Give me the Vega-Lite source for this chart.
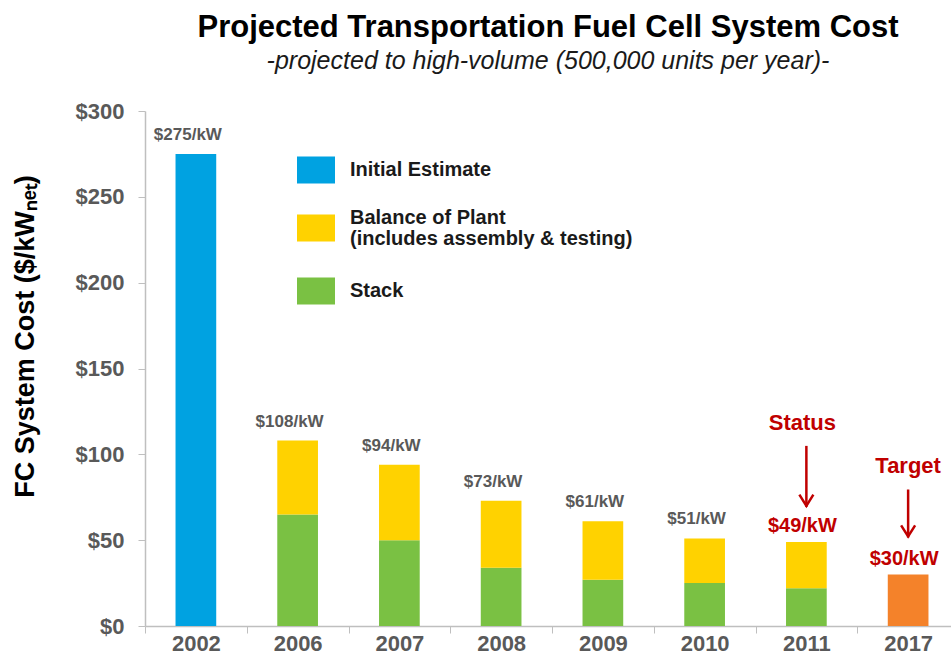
{
  "$schema": "https://vega.github.io/schema/vega-lite/v6.json",
  "width": 806,
  "height": 515,
  "autosize": {"type": "none"},
  "padding": {"left": 145, "top": 111, "right": 0, "bottom": 39},
  "background": "white",
  "config": {"view": {"stroke": null}, "font": "Liberation Sans"},
  "title": {
    "text": "Projected Transportation Fuel Cell System Cost",
    "subtitle": "-projected to high-volume (500,000 units per year)-",
    "fontSize": 31,
    "fontWeight": "bold",
    "color": "#000000",
    "subtitleFontSize": 25,
    "subtitleFontStyle": "italic",
    "subtitleColor": "#1a1a1a",
    "subtitleFont": "Liberation Sans",
    "anchor": "middle",
    "offset": 25,
    "subtitlePadding": 5
  },
  "datasets": {
    "costs": [
      {"year": "2002", "component": "Initial Estimate", "cost": 275},
      {"year": "2006", "component": "Stack", "cost": 65},
      {"year": "2006", "component": "Balance of Plant", "cost": 43},
      {"year": "2007", "component": "Stack", "cost": 50},
      {"year": "2007", "component": "Balance of Plant", "cost": 44},
      {"year": "2008", "component": "Stack", "cost": 34},
      {"year": "2008", "component": "Balance of Plant", "cost": 39},
      {"year": "2009", "component": "Stack", "cost": 27},
      {"year": "2009", "component": "Balance of Plant", "cost": 34},
      {"year": "2010", "component": "Stack", "cost": 25},
      {"year": "2010", "component": "Balance of Plant", "cost": 26},
      {"year": "2011", "component": "Stack", "cost": 22},
      {"year": "2011", "component": "Balance of Plant", "cost": 27},
      {"year": "2017", "component": "Target", "cost": 30}
    ],
    "totals": [
      {"year": "2002", "total": 275, "label": "$275/kW", "kind": "estimate"},
      {"year": "2006", "total": 108, "label": "$108/kW", "kind": "estimate"},
      {"year": "2007", "total": 94, "label": "$94/kW", "kind": "estimate"},
      {"year": "2008", "total": 73, "label": "$73/kW", "kind": "estimate"},
      {"year": "2009", "total": 61, "label": "$61/kW", "kind": "estimate"},
      {"year": "2010", "total": 51, "label": "$51/kW", "kind": "estimate"},
      {"year": "2011", "total": 49, "label": "$49/kW", "kind": "Status"},
      {"year": "2017", "total": 30, "label": "$30/kW", "kind": "Target"}
    ]
  },
  "encoding": {
    "x": {
      "field": "year",
      "type": "ordinal",
      "scale": {"range": [0, 814], "paddingInner": 0, "paddingOuter": 0},
      "axis": {
        "title": null,
        "labelAngle": 0,
        "labelFontSize": 22,
        "labelFontWeight": "bold",
        "labelColor": "#595959",
        "labelPadding": 0,
        "tickBand": "extent",
        "tickSize": 7,
        "tickColor": "#bfbfbf",
        "domainColor": "#bfbfbf",
        "domainWidth": 1.5
      }
    }
  },
  "layer": [
    {
      "data": {"name": "costs"},
      "mark": {"type": "bar", "width": {"band": 0.4}},
      "encoding": {
        "y": {
          "field": "cost",
          "type": "quantitative",
          "stack": "zero",
          "scale": {"domain": [0, 300], "nice": false},
          "axis": {
            "values": [0, 50, 100, 150, 200, 250, 300],
            "labelExpr": "'$' + datum.value",
            "labelFontSize": 22,
            "labelFontWeight": "bold",
            "labelColor": "#595959",
            "labelPadding": 14,
            "tickSize": 7,
            "tickColor": "#bfbfbf",
            "domainColor": "#bfbfbf",
            "domainWidth": 1.5,
            "grid": false,
            "title": "FC System Cost ($/kWₙₑₜ)",
            "titleFontSize": 27,
            "titleFontWeight": "bold",
            "titleColor": "#000000",
            "titleX": -120,
            "titleY": 225,
            "titleBaseline": "middle",
            "titleAlign": "center"
          }
        },
        "color": {
          "field": "component",
          "type": "nominal",
          "scale": {
            "domain": ["Initial Estimate", "Balance of Plant", "Stack", "Target"],
            "range": ["#00A2E1", "#FFD200", "#7AC143", "#F4822A"]
          },
          "legend": {
            "values": ["Initial Estimate", "Balance of Plant", "Stack"],
            "title": null,
            "orient": "none",
            "legendX": 152,
            "legendY": 40,
            "padding": 0,
            "symbolType": "M-1,-0.71L1,-0.71L1,0.71L-1,0.71Z",
            "symbolSize": 1444,
            "symbolStrokeWidth": 0,
            "symbolOpacity": 1,
            "labelFontSize": 20,
            "labelFontWeight": "bold",
            "labelColor": "#1a1a1a",
            "labelOffset": 15,
            "labelLimit": 400,
            "rowPadding": 23,
            "labelExpr": "datum.label == 'Balance of Plant' ? ['Balance of Plant', '(includes assembly & testing)'] : datum.label",
            "encoding": {
              "labels": {
                "lineHeight": {"value": 21},
                "dy": {"condition": {"test": "datum.value == 'Balance of Plant'", "value": -10.5}, "value": 0}
              }
            }
          }
        },
        "order": {"field": "component", "sort": "descending"}
      }
    },
    {
      "data": {"name": "totals"},
      "transform": [{"filter": "datum.kind == 'estimate'"}],
      "mark": {"type": "text", "fontSize": 17, "fontWeight": "bold", "color": "#595959", "baseline": "middle", "dy": -19, "dx": -8},
      "encoding": {
        "y": {"field": "total", "type": "quantitative"},
        "text": {"field": "label"}
      }
    },
    {
      "data": {"name": "totals"},
      "transform": [{"filter": "datum.kind != 'estimate'"}],
      "mark": {"type": "text", "fontSize": 20, "fontWeight": "bold", "color": "#C00000", "baseline": "middle", "dy": -16, "dx": -4},
      "encoding": {
        "y": {"field": "total", "type": "quantitative"},
        "text": {"field": "label"}
      }
    },
    {
      "data": {"name": "totals"},
      "transform": [{"filter": "datum.kind == 'Status'"}],
      "mark": {"type": "text", "fontSize": 22, "fontWeight": "bold", "color": "#C00000", "baseline": "middle", "dy": -119, "dx": -4},
      "encoding": {
        "y": {"field": "total", "type": "quantitative"},
        "text": {"field": "kind"}
      }
    },
    {
      "data": {"name": "totals"},
      "transform": [{"filter": "datum.kind == 'Target'"}],
      "mark": {"type": "text", "fontSize": 22, "fontWeight": "bold", "color": "#C00000", "baseline": "middle", "dy": -109},
      "encoding": {
        "y": {"field": "total", "type": "quantitative"},
        "text": {"field": "kind"}
      }
    },
    {
      "data": {"name": "totals"},
      "transform": [{"filter": "datum.kind == 'Status'"}],
      "mark": {"type": "rule", "color": "#C00000", "strokeWidth": 2.5, "yOffset": -96, "y2Offset": -35},
      "encoding": {
        "y": {"field": "total", "type": "quantitative"},
        "y2": {"field": "total"}
      }
    },
    {
      "data": {"name": "totals"},
      "transform": [{"filter": "datum.kind == 'Target'"}],
      "mark": {"type": "rule", "color": "#C00000", "strokeWidth": 2.5, "yOffset": -85, "y2Offset": -37},
      "encoding": {
        "y": {"field": "total", "type": "quantitative"},
        "y2": {"field": "total"}
      }
    },
    {
      "data": {"name": "totals"},
      "transform": [{"filter": "datum.kind == 'Status'"}],
      "mark": {"type": "point", "shape": "M-1,-1.6L0,0L1,-1.6", "filled": false, "color": "#C00000", "strokeWidth": 2.5, "size": 196, "opacity": 1, "yOffset": -36},
      "encoding": {
        "y": {"field": "total", "type": "quantitative"}
      }
    },
    {
      "data": {"name": "totals"},
      "transform": [{"filter": "datum.kind == 'Target'"}],
      "mark": {"type": "point", "shape": "M-1,-1.6L0,0L1,-1.6", "filled": false, "color": "#C00000", "strokeWidth": 2.5, "size": 196, "opacity": 1, "yOffset": -38},
      "encoding": {
        "y": {"field": "total", "type": "quantitative"}
      }
    }
  ]
}
